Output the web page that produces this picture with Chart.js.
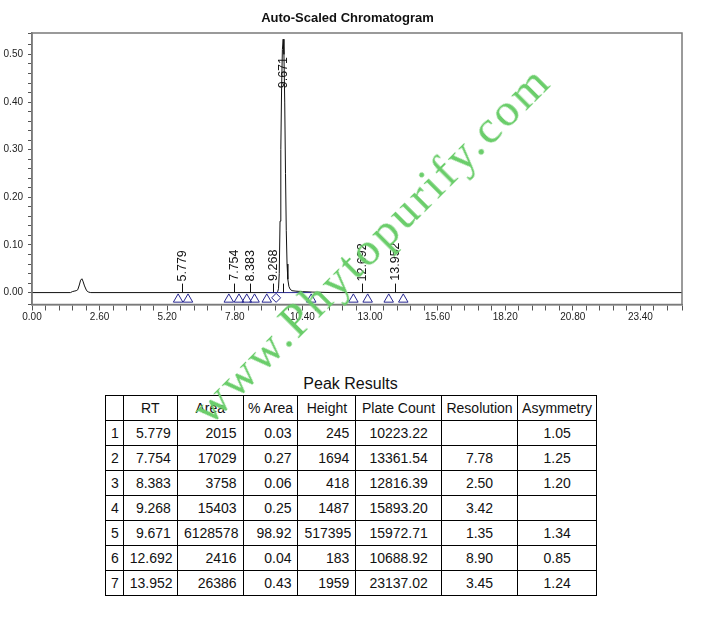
<!DOCTYPE html>
<html>
<head>
<meta charset="utf-8">
<title>Auto-Scaled Chromatogram</title>
<script src="https://cdn.jsdelivr.net/npm/chart.js@4.4.1/dist/chart.umd.min.js"></script>
<style>
    html, body { margin: 0; padding: 0; background: #fff; }
    body {
        width: 709px; height: 629px; position: relative; overflow: hidden;
        font-family: Arial, "Liberation Sans", sans-serif; color: #111;
    }
    #chartTitle {
        position: absolute; left: 0; top: 10px; width: 695px;
        text-align: center; font-size: 13px; font-weight: bold; line-height: 16px;
    }
    #chartBox { position: absolute; left: 0; top: 0; width: 709px; height: 330px; }
    #peakTitle {
        position: absolute; left: 0; top: 375px; width: 701px;
        text-align: center; font-size: 16px; line-height: 18px;
    }
    #peakTable {
        position: absolute; left: 105px; top: 395px; width: 492px;
        border-collapse: collapse; table-layout: fixed; font-size: 14px;
    }
    #peakTable td {
        border: 1.5px solid #000; height: 24px; padding: 0 6px;
        white-space: nowrap; overflow: hidden;
    }
    #peakTable td.num { text-align: right; }
    #peakTable td.mid { text-align: center; }
    #peakTable td.idx { text-align: left; padding-left: 5px; }
    #peakTable tr.head td { text-align: center; padding: 0; }
    .watermark {
        position: absolute; left: 371px; top: 244px; z-index: 10;
        transform: translate(-50%, -50%) rotate(-45deg);
        font-family: "Liberation Serif", "DejaVu Serif", serif;
        font-size: 47px; line-height: 1; letter-spacing: 3.2px;
        color: #6acd6a; white-space: nowrap; pointer-events: none;
    }
</style>
</head>
<body>
<div id="chartBox"><canvas id="chromChart"></canvas></div>
<div id="chartTitle">Auto-Scaled Chromatogram</div>
<div id="peakTitle">Peak Results</div>
<table id="peakTable"></table>
<div class="watermark">www.Phytopurify.com</div>

<script>
(() => {
    // Tín hiệu detector (phút, AU)
    const signalTime = [0, 1.48, 1.55, 1.62, 1.70, 1.76, 1.82, 1.87, 1.92, 1.96, 2.02, 2.10, 2.18, 2.26,
        9.40, 9.45, 9.48, 9.51, 9.54, 9.57, 9.60, 9.63, 9.66, 9.69, 9.72, 9.75, 9.78, 9.81, 9.84, 9.88,
        9.93, 10.00, 10.15, 10.40, 10.80, 11.50, 25.00];
    const signalAU = [0, 0, 0.002, 0.003, 0.004, 0.006, 0.016, 0.026, 0.029, 0.024, 0.014, 0.004, 0.001, 0,
        0, 0.002, 0.008, 0.04, 0.15, 0.30, 0.43, 0.51, 0.532, 0.50, 0.40, 0.25, 0.13, 0.06, 0.028, 0.013,
        0.007, 0.004, 0.003, 0.002, 0.001, 0, 0];

    // Điểm đầu / cuối pic (tam giác), điểm tách pic (hình thoi), đường nền tích phân
    const markerTimes = [5.62, 6.00, 7.57, 7.96, 8.26, 8.56, 9.03, 10.74, 12.36, 12.91, 13.72, 14.28];
    const dropTimes = [9.39];
    const baselineTimes = [9.03, 10.74];
    const MARKER_LEVEL = -0.0143;
    const DROP_LEVEL = -0.011;

    // Bảng kết quả pic
    const peakRT = [5.779, 7.754, 8.383, 9.268, 9.671, 12.692, 13.952];
    const peakArea = [2015, 17029, 3758, 15403, 6128578, 2416, 26386];
    const peakAreaPct = ['0.03', '0.27', '0.06', '0.25', '98.92', '0.04', '0.43'];
    const peakHeight = [245, 1694, 418, 1487, 517395, 183, 1959];   // µV
    const plateCount = ['10223.22', '13361.54', '12816.39', '15893.20', '15972.71', '10688.92', '23137.02'];
    const resolution = ['', '7.78', '2.50', '3.42', '1.35', '8.90', '3.45'];
    const asymmetry = ['1.05', '1.25', '1.20', '', '1.34', '0.85', '1.24'];
    const tableHeaders = ['', 'RT', 'Area', '% Area', 'Height', 'Plate Count', 'Resolution', 'Asymmetry'];
    const columnWidths = [17.3, 53.1, 64.3, 53.7, 56.7, 83.7, 74.7, 77.1];

    // Trục
    const X_MIN = 0, X_MAX = 25, X_STEP = 0.52, X_LABEL_EVERY = 2.6;
    const Y_MIN = -0.025, Y_MAX = 0.545, Y_STEP = 0.02, Y_LABEL_EVERY = 0.1;

    const NAVY = '#26268f';
    const FONT = 'Arial, "Liberation Sans", sans-serif';

    function buildTable() {
        const table = document.getElementById('peakTable');
        let html = '<colgroup>' + columnWidths.map(w => `<col style="width:${w}px">`).join('') + '</colgroup>';
        html += '<tr class="head">' + tableHeaders.map(h => `<td>${h}</td>`).join('') + '</tr>';
        peakRT.forEach((rt, i) => {
            html += `<tr>
                <td class="idx">${i + 1}</td>
                <td class="num">${rt.toFixed(3)}</td>
                <td class="num">${peakArea[i]}</td>
                <td class="num">${peakAreaPct[i]}</td>
                <td class="num">${peakHeight[i]}</td>
                <td class="mid">${plateCount[i]}</td>
                <td class="mid">${resolution[i]}</td>
                <td class="mid">${asymmetry[i]}</td>
            </tr>`;
        });
        table.innerHTML = html;
    }

    // Khung, vạch và nhãn RT xoay dọc
    const chromDecor = {
        id: 'chromDecor',
        afterDatasetsDraw(chart) {
            const { ctx, chartArea: a, scales: { x, y } } = chart;
            ctx.save();
            ctx.strokeStyle = '#7a7a7a';
            ctx.lineWidth = 1.5;
            ctx.strokeRect(a.left, a.top, a.right - a.left, a.bottom - a.top);

            const y0 = y.getPixelForValue(0);
            ctx.font = `12.5px ${FONT}`;
            ctx.fillStyle = '#111';
            ctx.strokeStyle = '#111';
            ctx.lineWidth = 1;
            peakRT.forEach((rt, i) => {
                const px = Math.round(x.getPixelForValue(rt)) + 0.5;
                const label = rt.toFixed(3);
                const w = ctx.measureText(label).width;
                let start = y.getPixelForValue(peakHeight[i] / 1e6) - 11;
                if (start - w < a.top + 24) start = a.top + 24 + w;
                ctx.beginPath();
                ctx.moveTo(px, y0);
                ctx.lineTo(px, y0 - 9);
                ctx.stroke();
                ctx.save();
                ctx.translate(px, start);
                ctx.rotate(-Math.PI / 2);
                ctx.textAlign = 'left';
                ctx.textBaseline = 'middle';
                ctx.fillText(label, 0, 0);
                ctx.restore();
            });
            ctx.restore();
        }
    };

    function isMultiple(v, step) {
        const r = v / step;
        return Math.abs(r - Math.round(r)) < 1e-6;
    }

    function renderChart() {
        const ctx = document.getElementById('chromChart').getContext('2d');
        new Chart(ctx, {
            type: 'scatter',
            data: {
                datasets: [
                    {
                        type: 'line',
                        data: baselineTimes.map(t => ({ x: t, y: 0 })),
                        borderColor: NAVY, borderWidth: 1, pointRadius: 0, order: 0
                    },
                    {
                        type: 'line',
                        data: signalTime.map((t, i) => ({ x: t, y: signalAU[i] })),
                        borderColor: '#111', borderWidth: 1, pointRadius: 0, tension: 0, order: 1
                    },
                    {
                        data: markerTimes.map(t => ({ x: t, y: MARKER_LEVEL })),
                        pointStyle: 'triangle', pointRadius: 5.5, borderWidth: 1,
                        borderColor: NAVY, backgroundColor: 'rgba(0,0,0,0)', order: 0
                    },
                    {
                        data: dropTimes.map(t => ({ x: t, y: DROP_LEVEL })),
                        pointStyle: 'rectRot', pointRadius: 4.5, borderWidth: 1,
                        borderColor: NAVY, backgroundColor: 'rgba(0,0,0,0)', order: 0
                    }
                ]
            },
            options: {
                responsive: true,
                maintainAspectRatio: false,
                animation: false,
                layout: { padding: { left: 0, right: 27, top: 33, bottom: 0 } },
                plugins: {
                    legend: { display: false },
                    tooltip: { enabled: false },
                    title: { display: false }
                },
                scales: {
                    x: {
                        type: 'linear', min: X_MIN, max: X_MAX,
                        afterFit: s => { s.height = 25.5; },
                        grid: { drawOnChartArea: false, tickLength: 6, tickColor: '#555' },
                        border: { color: '#7a7a7a', width: 1.5 },
                        ticks: {
                            stepSize: X_STEP, autoSkip: false, maxRotation: 0, padding: 1,
                            color: '#222', font: { family: FONT, size: 10 },
                            callback: v => isMultiple(v, X_LABEL_EVERY) ? v.toFixed(2) : ''
                        }
                    },
                    y: {
                        type: 'linear', min: Y_MIN, max: Y_MAX,
                        afterFit: s => { s.width = 32; },
                        grid: { drawOnChartArea: false, tickLength: 4, tickColor: '#555' },
                        border: { color: '#7a7a7a', width: 1.5 },
                        ticks: {
                            stepSize: Y_STEP, autoSkip: false, padding: 5,
                            color: '#222', font: { family: FONT, size: 10 },
                            callback: v => (v >= 0 && isMultiple(v, Y_LABEL_EVERY)) ? v.toFixed(2) : ''
                        }
                    }
                }
            },
            plugins: [chromDecor]
        });
    }

    buildTable();
    renderChart();
})();
</script>
</body>
</html>
